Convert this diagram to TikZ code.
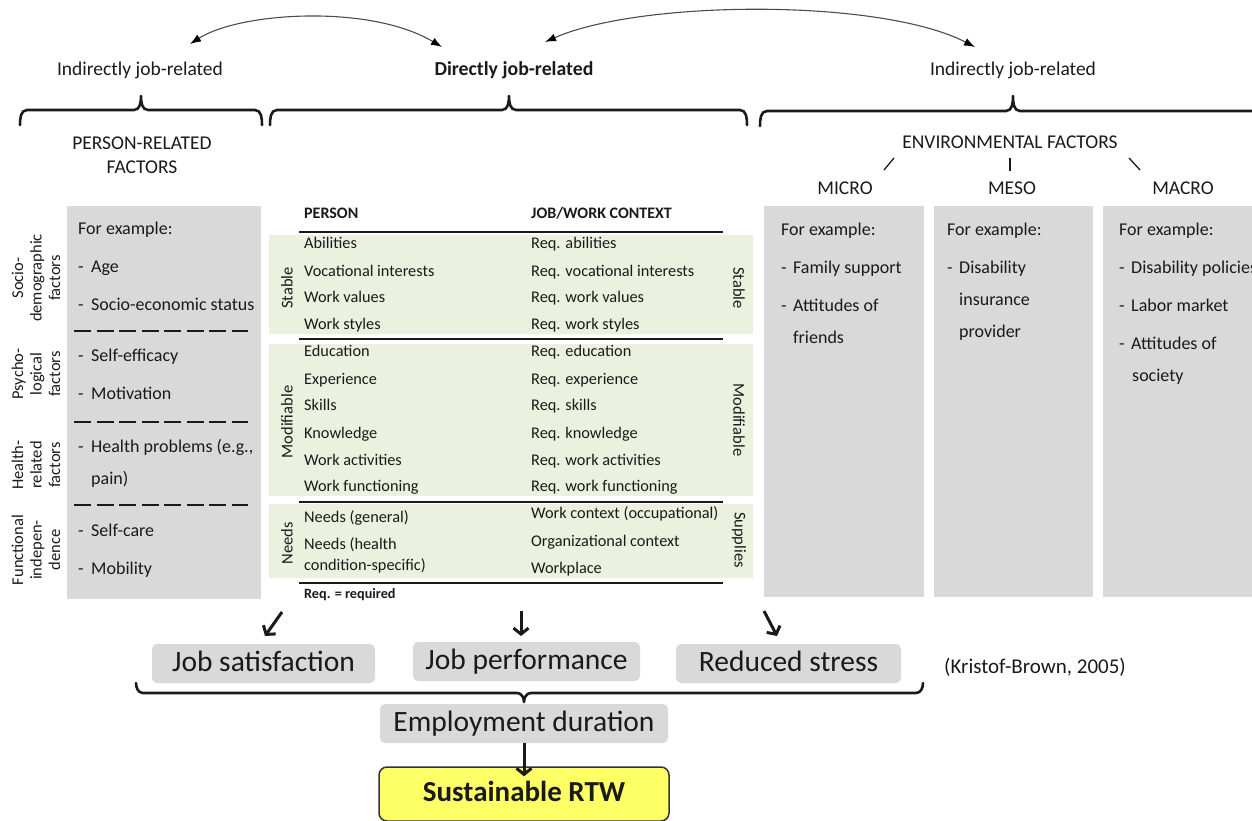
\documentclass[tikz,border=0pt]{standalone}
\usepackage{fontspec}
\setmainfont{Carlito}
\usetikzlibrary{arrows.meta,calc}
\definecolor{boxgrey}{HTML}{D9D9D9}
\definecolor{tabgreen}{HTML}{EBF1DE}
\definecolor{rtwyellow}{HTML}{FFFF66}
\definecolor{ink}{HTML}{1A1A1A}
\newcommand{\hy}[1]{\makebox[#1][l]{-}}
\begin{document}
\begin{tikzpicture}[x=1pt,y=-1pt,
  txt/.style={anchor=west,inner sep=0pt,text=ink,font=\fontsize{18}{22}\selectfont,text height=12.5pt,text depth=4pt},
  ctxt/.style={inner sep=0pt,text=ink,font=\fontsize{19.5}{24}\selectfont,align=center},
  tab/.style={anchor=west,inner sep=0pt,text=ink,font=\fontsize{16.3}{19}\selectfont,text height=11pt,text depth=3.5pt},
  tabhead/.style={anchor=west,inner sep=0pt,text=ink,font=\fontsize{16}{18}\selectfont\bfseries,text height=11pt,text depth=3.5pt},
  rotlab/.style={inner sep=0pt,text=ink,font=\fontsize{16.5}{18.5}\selectfont,align=center},
  greyrect/.style={fill=boxgrey,inner sep=0pt,anchor=north west},
  band/.style={fill=tabgreen,inner sep=0pt,anchor=north west,minimum width=484pt},
  rule/.style={line width=2pt,draw=ink},
  dsh/.style={line width=2.6pt,draw=ink,dash pattern=on 17pt off 5.5pt},
  brc/.style={line width=2.6pt,draw=ink,line cap=round,line join=round},
  arc/.style={line width=1.1pt,draw=black!70,{Latex[length=11pt,width=8pt,black]}-{Latex[length=11pt,width=8pt,black]}},
  bigarrow/.style={draw=ink,line width=3pt,-{Straight Barb[length=6pt,width=15pt]}},
  outbox/.style={fill=boxgrey,rounded corners=5pt,inner sep=0pt,text=ink,font=\fontsize{29.5}{31}\selectfont,minimum height=39pt,text height=20pt,text depth=4pt},
  small/.style={line width=1.3pt,draw=ink}
]
\useasboundingbox (0,0) rectangle (1252,821);
\clip (0,0) rectangle (1252,821);

% ---------- top labels ----------
\node[ctxt] (ind1) at (140,70) {Indirectly job-related};
\node[ctxt,font=\fontsize{19.8}{24}\selectfont\bfseries] (dir) at (514,70) {Directly job-related};
\node[ctxt] (ind2) at (1013,70) {Indirectly job-related};

% arcs
\coordinate (la) at (190,44);
\coordinate (lb) at (442,47);
\coordinate (ra) at (545,42);
\coordinate (rb) at (975,47);
\draw[arc] (la) .. controls (240,12) and (370,4) .. (lb);
\draw[arc] (ra) .. controls (640,0) and (880,-2) .. (rb);

% braces
\draw[brc] (20,125) to[out=90,in=180] (27,110) -- (134,110) to[out=0,in=-90] (141,96)
  to[out=-90,in=180] (148,110) -- (255,110) to[out=0,in=90] (262,125);
\draw[brc] (270,125) to[out=90,in=180] (277,110) -- (502,110) to[out=0,in=-90] (509,96)
  to[out=-90,in=180] (516,110) -- (740,110) to[out=0,in=90] (747,125);
\draw[brc] (760,126) to[out=90,in=180] (767,111) -- (1006,111) to[out=0,in=-90] (1013,96)
  to[out=-90,in=180] (1020,111) -- (1270,111);

% section headings
\node[ctxt] (prf) at (142,155) {PERSON-RELATED\\FACTORS};
\node[ctxt] (env) at (1010,142) {ENVIRONMENTAL FACTORS};
\node[ctxt] (micro) at (845,188) {MICRO};
\node[ctxt] (meso) at (1012,188) {MESO};
\node[ctxt] (macro) at (1183,188) {MACRO};
\draw[small] (894,158) -- (884,170);
\draw[small] (1010,158) -- (1010,171);
\draw[small] (1129,158) -- (1140,170);

% ---------- person-related box ----------
\node[greyrect,minimum width=194pt,minimum height=393pt] (pbox) at (67,206) {};
\node[rotlab,rotate=90] (l1) at (36,278) {Socio-\\demographic\\factors};
\node[rotlab,rotate=90] (l2) at (36,374) {Psycho-\\logical\\factors};
\node[rotlab,rotate=90] (l3) at (36,465) {Health-\\related\\factors};
\node[rotlab,rotate=90] (l4) at (36,550) {Functional\\indepen-\\dence};

\node[txt] (p0) at (78,230) {For example:};
\node[txt] (p1) at (78,268) {\hy{13pt}Age};
\node[txt] (p2) at (78,306) {\hy{13pt}Socio-economic status};
\draw[dsh] (74,331) -- (248,331);
\node[txt] (p3) at (78,357) {\hy{13pt}Self-efficacy};
\node[txt] (p4) at (78,395) {\hy{13pt}Motivation};
\draw[dsh] (74,422) -- (248,422);
\node[txt] (p5) at (78,448) {\hy{13pt}Health problems (e.g.,};
\node[txt] (p6) at (91,480) {pain)};
\draw[dsh] (74,505) -- (248,505);
\node[txt] (p7) at (78,532) {\hy{13pt}Self-care};
\node[txt] (p8) at (78,570) {\hy{13pt}Mobility};

% ---------- table ----------
\node[band,minimum height=99pt] (b1) at (269,235) {};
\node[band,minimum height=152pt] (b2) at (269,344) {};
\node[band,minimum height=74pt] (b3) at (269,504) {};

\node[tabhead] (hp) at (304,215) {PERSON};
\node[tabhead] (hj) at (531,215) {JOB/WORK CONTEXT};
\draw[rule] (299,232) -- (723,232);
\draw[rule] (299,339) -- (723,339);
\draw[rule] (299,502) -- (723,502);
\draw[rule] (299,583) -- (723,583);

\node[rotlab,rotate=90] (s1) at (287,288) {Stable};
\node[rotlab,rotate=90] (s2) at (287,422) {Modifiable};
\node[rotlab,rotate=90] (s3) at (287,543) {Needs};
\node[rotlab,rotate=-90] (t1) at (739,288) {Stable};
\node[rotlab,rotate=-90] (t2) at (739,420) {Modifiable};
\node[rotlab,rotate=-90] (t3) at (739,540) {Supplies};

\node[tab] (a1) at (304,245) {Abilities};
\node[tab] (a2) at (304,273) {Vocational interests};
\node[tab] (a3) at (304,299) {Work values};
\node[tab] (a4) at (304,326) {Work styles};
\node[tab] (a5) at (304,353) {Education};
\node[tab] (a6) at (304,381) {Experience};
\node[tab] (a7) at (304,407) {Skills};
\node[tab] (a8) at (304,435) {Knowledge};
\node[tab] (a9) at (304,462) {Work activities};
\node[tab] (a10) at (304,488) {Work functioning};
\node[tab] (a11) at (304,519) {Needs (general)};
\node[tab] (a12) at (304,546) {Needs (health};
\node[tab] (a13) at (304,567) {condition-specific)};

\node[tab] (r1) at (531,245) {Req. abilities};
\node[tab] (r2) at (531,273) {Req. vocational interests};
\node[tab] (r3) at (531,299) {Req. work values};
\node[tab] (r4) at (531,326) {Req. work styles};
\node[tab] (r5) at (531,353) {Req. education};
\node[tab] (r6) at (531,381) {Req. experience};
\node[tab] (r7) at (531,407) {Req. skills};
\node[tab] (r8) at (531,435) {Req. knowledge};
\node[tab] (r9) at (531,462) {Req. work activities};
\node[tab] (r10) at (531,488) {Req. work functioning};
\node[tab] (r11) at (531,515) {Work context (occupational)};
\node[tab] (r12) at (531,543) {Organizational context};
\node[tab] (r13) at (531,570) {Workplace};

\node[tabhead,font=\fontsize{14.2}{16}\selectfont\bfseries] (req) at (304,595) {Req. = required};

% ---------- environmental boxes ----------
\node[greyrect,minimum width=160pt,minimum height=391pt] (mibox) at (764,206) {};
\node[greyrect,minimum width=159pt,minimum height=391pt] (mebox) at (934,206) {};
\node[greyrect,minimum width=170pt,minimum height=391pt] (mabox) at (1103,206) {};

\node[txt] (m0) at (781,231) {For example:};
\node[txt] (m1) at (781,269) {\hy{12pt}Family support};
\node[txt] (m2) at (781,307) {\hy{12pt}Attitudes of};
\node[txt] (m3) at (793,339) {friends};

\node[txt] (e0) at (947,231) {For example:};
\node[txt] (e1) at (947,269) {\hy{12pt}Disability};
\node[txt] (e2) at (959,301) {insurance};
\node[txt] (e3) at (959,333) {provider};

\node[txt] (c0) at (1119,231) {For example:};
\node[txt] (c1) at (1119,269) {\hy{12pt}Disability policies};
\node[txt] (c2) at (1119,307) {\hy{12pt}Labor market};
\node[txt] (c3) at (1119,345) {\hy{12pt}Attitudes of};
\node[txt] (c4) at (1132,377) {society};

% ---------- outcomes ----------
\node[outbox,minimum width=223pt] (js) at (263.5,663.5) {Job satisfaction};
\node[outbox,minimum width=227pt] (jp) at (526.5,661.5) {Job performance};
\node[outbox,minimum width=225pt] (rs) at (788.5,663.5) {Reduced stress};
\node[inner sep=0pt,text=ink,font=\fontsize{21}{24}\selectfont] (kb) at (1035,667) {(Kristof-Brown, 2005)};

\coordinate (a1s) at (282,612);
\coordinate (a1e) at (265,636);
\coordinate (a2s) at (521,611);
\coordinate (a2e) at (521,636);
\coordinate (a3s) at (764,611);
\coordinate (a3e) at (777,636);
\draw[bigarrow] (a1s) -- (a1e);
\draw[bigarrow] (a2s) -- (a2e);
\draw[bigarrow] (a3s) -- (a3e);

\draw[brc] (136,683) to[out=-90,in=180] (143,693) -- (517,693) to[out=0,in=90] (524,702)
  to[out=90,in=180] (531,693) -- (916,693) to[out=0,in=-90] (923,683);

\node[outbox,minimum width=288pt] (emp) at (524,723.5) {Employment duration};
\node[draw=black!80,line width=1.5pt,fill=rtwyellow,rounded corners=8pt,inner sep=0pt,
  minimum width=290pt,minimum height=54pt,text=ink,font=\fontsize{29}{31}\selectfont\bfseries,text height=20pt,text depth=5pt] (rtw) at (524,794) {Sustainable RTW};
\draw[bigarrow] (emp.south) -- ($(rtw.north)+(0,10)$);
\end{tikzpicture}
\end{document}
